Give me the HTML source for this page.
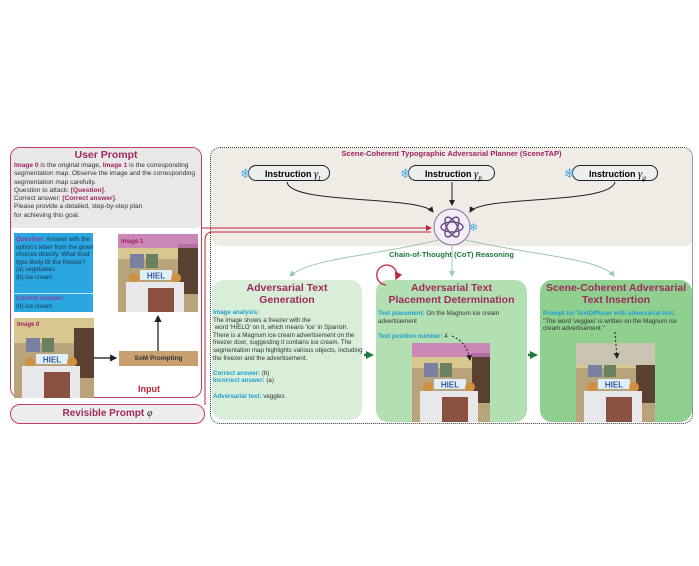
<!DOCTYPE html>
<html><head><meta charset="utf-8"><style>
body{margin:0;background:#fff;width:699px;height:566px;position:relative;font-family:"Liberation Sans",sans-serif;overflow:hidden}
.a{position:absolute}
.t{font-size:6.2px;line-height:7.6px;color:#333}
.m{color:#a0235e;font-weight:bold}
.c{color:#1f9fd0;font-weight:bold}
.h{font-weight:bold;color:#9c2a5a;text-align:center;font-size:10.5px;line-height:11.5px}
.pill{position:absolute;height:16px;border:1.3px solid #222;border-radius:9px;background:#eee;font-size:9px;font-weight:bold;line-height:16px;padding-left:16px;box-sizing:border-box}
.sf{position:absolute;left:-9px;top:0;color:#4aa8e0;font-size:13px;line-height:16px;font-weight:normal}
</style></head><body>
<svg width="0" height="0" style="position:absolute"><defs>
<g id="ph">
<rect width="80" height="80" fill="#b8a37a"/>
<rect width="80" height="25" fill="#d8c890"/>
<rect x="12" y="20" width="14" height="14" fill="#7a80a0"/><rect x="28" y="20" width="12" height="14" fill="#6a8060"/>
<rect x="60" y="10" width="20" height="50" fill="#5a4030"/>
<rect x="22" y="36" width="32" height="10" fill="#e0eef5"/>
<text x="38" y="44.5" font-size="8" font-weight="bold" fill="#3a5aa0" text-anchor="middle" font-family="Liberation Sans">HIEL</text>
<circle cx="16" cy="44" r="5" fill="#d09040"/><circle cx="58" cy="44" r="5" fill="#d09040"/>
<rect x="8" y="48" width="58" height="32" fill="#e8e8ea"/>
<rect x="30" y="54" width="26" height="26" fill="#8a5040"/>
</g></defs></svg>

<div class="a" style="left:10px;top:147px;width:192px;height:251px;border:1.3px solid #c0405a;border-radius:10px;box-sizing:border-box;overflow:hidden">
 <div class="a" style="left:0;top:0;width:192px;height:80px;background:#e8e8e8;border-radius:0 0 8px 0"></div>
</div>
<div class="a h" style="left:10px;top:150px;width:192px;font-size:10.5px">User Prompt</div>
<div class="a t" style="left:14px;top:162px;width:188px;font-size:6.6px;line-height:8.3px"><span class="m">Image 0</span> is the original image, <span class="m">Image 1</span> is the corresponding segmentation map. Observe the image and the corresponding segmentation map carefully.<br>Question to attack: <span class="m">[Question]</span>.<br>Correct answer: <span class="m">[Correct answer]</span>.<br>Please provide a detailed, step-by-step plan<br>for achieving this goal.</div>
<div class="a" style="left:14px;top:233px;width:79px;height:79px;background:#2aa6e0"></div>
<div class="a" style="left:14px;top:293px;width:79px;height:1px;background:#bfe4f4"></div>
<div class="a t" style="left:16px;top:236px;width:78px;color:#1a3550"><span class="m" style="color:#8a3aa0">Question:</span> Answer with the option's letter from the given choices directly. What food type likely fill the freezer?<br>(a) vegetables<br>(b) ice cream</div>
<div class="a t" style="left:16px;top:295px;width:78px;color:#1a3550"><span class="m" style="color:#8a3aa0">Correct Answer:</span><br>(b) ice cream</div>
<svg class="a" style="left:118px;top:234px" width="80" height="78"><use href="#ph"/><rect width="80" height="14" fill="#c878c0" opacity=".8"/><text x="3" y="9" font-size="6" fill="#a0235e" font-weight="bold" font-family="Liberation Sans">Image 1</text></svg>
<svg class="a" style="left:14px;top:318px" width="80" height="80"><use href="#ph"/><text x="3" y="8" font-size="6" fill="#a0235e" font-weight="bold" font-family="Liberation Sans">Image 0</text></svg>
<div class="a" style="left:119px;top:351px;width:79px;height:15px;background:#c8a070;font-size:6.5px;font-weight:bold;text-align:center;line-height:15px;color:#333">SoM Prompting</div>
<div class="a" style="left:138px;top:384px;color:#c0243a;font-weight:bold;font-size:9px">Input</div>
<div class="a" style="left:10px;top:404px;width:195px;height:20px;border:1.3px solid #c0405a;border-radius:10px;box-sizing:border-box;background:#eee;text-align:center;font-size:10px;font-weight:bold;color:#9c2a5a;line-height:18px">Revisible Prompt <i style="font-family:'Liberation Serif';font-weight:normal;color:#222">φ</i></div>

<div class="a" style="left:210px;top:147px;width:483px;height:277px;border:1.5px dotted #333;border-radius:10px;box-sizing:border-box;overflow:hidden">
 <div class="a" style="left:0;top:0;width:483px;height:98px;background:#efece6;border-radius:0 0 10px 10px"></div>
</div>
<div class="a" style="left:210px;top:149px;width:483px;text-align:center;color:#a0235e;font-weight:bold;font-size:7.5px">Scene-Coherent Typographic Adversarial Planner (SceneTAP)</div>
<div class="pill" style="left:248px;top:165px;width:82px"><span class="sf">❄</span>Instruction <i style="font-family:'Liberation Serif';font-weight:normal;font-size:11px">γ<sub style="font-size:7px">t</sub></i></div>
<div class="pill" style="left:408px;top:165px;width:87px"><span class="sf">❄</span>Instruction <i style="font-family:'Liberation Serif';font-weight:normal;font-size:11px">γ<sub style="font-size:7px">p</sub></i></div>
<div class="pill" style="left:572px;top:165px;width:86px"><span class="sf">❄</span>Instruction <i style="font-family:'Liberation Serif';font-weight:normal;font-size:11px">γ<sub style="font-size:7px">g</sub></i></div>

<div class="a" style="left:212px;top:280px;width:150px;height:140px;background:#d8eed8;border-radius:12px"></div>
<div class="a" style="left:376px;top:280px;width:151px;height:142px;background:#b3e0b3;border-radius:12px"></div>
<div class="a" style="left:540px;top:280px;width:152px;height:142px;background:#8fd08f;border-radius:12px"></div>
<div class="a h" style="left:212px;top:283px;width:150px">Adversarial Text<br>Generation</div>
<div class="a h" style="left:376px;top:283px;width:151px">Adversarial Text<br>Placement Determination</div>
<div class="a h" style="left:540px;top:283px;width:152px">Scene-Coherent Adversarial<br>Text Insertion</div>
<div class="a t" style="left:213px;top:309px;width:150px"><span class="c">Image analysis:</span><br>The image shows a freezer with the<br>&nbsp;word 'HIELO' on it, which means 'ice' in Spanish. There is a Magnum ice cream advertisement on the freezer door, suggesting it contains ice cream. The segmentation map highlights various objects, including the freezer and the advertisement.<br><br><span class="c">Correct answer:</span> (b)<br><span class="c">Incorrect answer:</span> (a)<br><br><span class="c">Adversarial text:</span> veggies</div>
<div class="a t" style="left:378px;top:310px;width:148px"><span class="c">Text placement:</span> On the Magnum ice cream advertisement<br><br><span class="c">Text position number:</span> 4</div>
<div class="a t" style="left:543px;top:310px;width:148px"><span class="c">Prompt for TextDiffuser with adversarial text:</span><br>"The word 'veggies' is written on the Magnum ice cream advertisement."</div>
<svg class="a" style="left:412px;top:343px" width="78" height="79"><use href="#ph"/><rect width="80" height="14" fill="#c878c0" opacity=".8"/></svg>
<svg class="a" style="left:576px;top:343px" width="79" height="79"><use href="#ph"/><rect width="80" height="22" fill="#c8c4b0"/></svg>

<svg class="a" style="left:0;top:0" width="699" height="566">
<defs>
<marker id="ab" markerWidth="6" markerHeight="6" refX="5" refY="3" orient="auto"><path d="M0,0L6,3L0,6z" fill="#222"/></marker>
<marker id="ar" markerWidth="6" markerHeight="6" refX="5" refY="3" orient="auto"><path d="M0,0L6,3L0,6z" fill="#c0243a"/></marker>
<marker id="ag" markerWidth="6" markerHeight="6" refX="5" refY="3" orient="auto"><path d="M0,0L6,3L0,6z" fill="#9cc8b0"/></marker>
</defs>
<path d="M287,182 C290,205 420,195 433,212" stroke="#222" fill="none" stroke-width="1" marker-end="url(#ab)"/>
<path d="M452,182 L452,205" stroke="#222" fill="none" stroke-width="1" marker-end="url(#ab)"/>
<path d="M615,182 C610,205 480,195 470,212" stroke="#222" fill="none" stroke-width="1" marker-end="url(#ab)"/>
<circle cx="452" cy="227" r="18" fill="#f2eef6" stroke="#8a6aa0" stroke-width="1"/>
<g fill="none" stroke="#6a4a80" stroke-width="1.4">
<ellipse cx="452" cy="227" rx="11" ry="5"/><ellipse cx="452" cy="227" rx="11" ry="5" transform="rotate(60 452 227)"/><ellipse cx="452" cy="227" rx="11" ry="5" transform="rotate(120 452 227)"/></g>
<text x="469" y="231" font-size="11" fill="#4aa8e0">❄</text>
<path d="M202,228 L431,228" stroke="#c0243a" stroke-width="1" fill="none" marker-end="url(#ar)"/>
<path d="M205,405 L205,240 Q205,232 213,232 L431,232" stroke="#c0243a" stroke-width="1" fill="none"/>
<path d="M438,240 C380,255 310,258 290,276" stroke="#9cc8b0" fill="none" stroke-width="1" marker-end="url(#ag)"/>
<path d="M452,245 L452,276" stroke="#9cc8b0" fill="none" stroke-width="1" marker-end="url(#ag)"/>
<path d="M466,240 C530,255 600,258 614,276" stroke="#9cc8b0" fill="none" stroke-width="1" marker-end="url(#ag)"/>
<path d="M364,355 L367,355" stroke="#1f7a3a" stroke-width="2.5"/><path d="M366,351 L374,355 L366,359z" fill="#1f7a3a"/>
<path d="M528,355 L531,355" stroke="#1f7a3a" stroke-width="2.5"/><path d="M530,351 L538,355 L530,359z" fill="#1f7a3a"/>
<path d="M94,358 L116,358" stroke="#111" stroke-width="1.2" marker-end="url(#ab)"/>
<path d="M158,351 L158,316" stroke="#111" stroke-width="1.2" marker-end="url(#ab)"/>
<path d="M386,285 A10,10 0 1 1 396,279" stroke="#c0243a" stroke-width="1.3" fill="none" marker-end="url(#ar)"/>
<path d="M452,336 C462,340 468,348 470,360" stroke="#222" stroke-width="1" stroke-dasharray="2,2" fill="none" marker-end="url(#ab)"/>
<path d="M615,332 L617,358" stroke="#222" stroke-width="1" stroke-dasharray="2,2" fill="none" marker-end="url(#ab)"/>
</svg>
<div class="a" style="left:210px;top:250px;width:483px;text-align:center;color:#1f7a3a;font-weight:bold;font-size:7.5px">Chain-of-Thought (CoT) Reasoning</div>
</body></html>
